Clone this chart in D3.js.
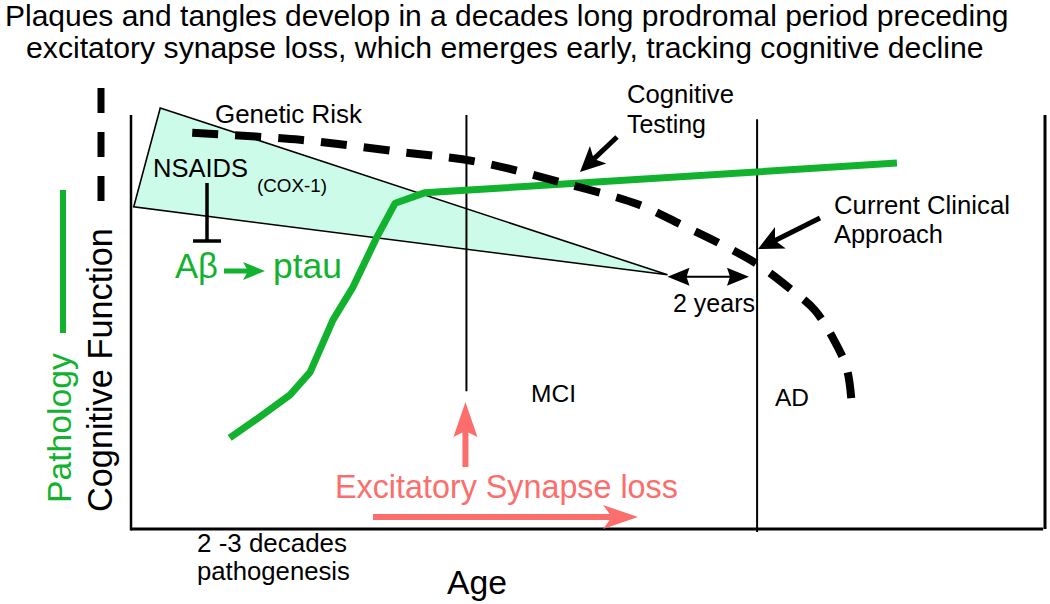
<!DOCTYPE html>
<html>
<head>
<meta charset="utf-8">
<script src="https://cdn.jsdelivr.net/npm/d3@7"></script>
<style>
  html, body { margin: 0; padding: 0; background: #fff; }
  svg { display: block; font-family: "Liberation Sans", Arial, sans-serif; }
</style>
</head>
<body>
<svg id="chart" width="1050" height="604"></svg>
<script>
// ---------------- data ----------------
const titleLines = [
  "Plaques and tangles develop in a decades long prodromal period preceding",
  "excitatory synapse loss, which emerges early, tracking cognitive decline"
];
// pathology (green) curve: age (0-100 of the age axis) vs level (0-100)
const pathologyAge   = [10.8, 14.1, 17.4, 19.6, 22.1, 24.3, 26.9, 28.9, 32.1, 83.8];
const pathologyLevel = [22.0, 27.1, 32.4, 37.9, 50.5, 58.5, 70.5, 78.7, 81.2, 88.4];
// cognitive function (black dashed) curve
const cognitionAge   = [6.7, 18.5, 29.4, 38.1, 46.9, 55.6, 60.3, 64.3, 68.5, 72.3, 74.8, 76.9, 78.3, 78.8];
const cognitionLevel = [95.7, 94.0, 91.1, 88.6, 83.8, 78.3, 73.4, 69.1, 64.0, 57.7, 52.9, 45.7, 38.9, 31.6];
// genetic-risk window (shaded wedge)
const riskAge   = [3.2, 0.3, 58.7];
const riskLevel = [101.7, 77.8, 61.4];
// clinical stage boundaries
const stageNames = ["MCI", "AD"];
const stageAges  = [36.7, 68.5];
const stageTops  = [100, 99];
const stageBottoms = [33.3, -0.7];
// annotation texts
const yLabel = "Cognitive Function";
const pathLabel = "Pathology";
const xLabel = "Age";
const prodromeLabel = ["2 -3 decades", "pathogenesis"];
const testingLabel = ["Cognitive", "Testing"];
const clinicalLabel = ["Current Clinical", "Approach"];
const gapLabel = "2 years";
const synapseLabel = "Excitatory Synapse loss";

// ---------------- setup ----------------
const svg = d3.select("#chart");
const x = d3.scaleLinear().domain([0, 100]).range([131, 1045]);
const y = d3.scaleLinear().domain([0, 100]).range([529, 115]);

const GREEN = "#12b22f", FILL = "#cdfbea", RED = "#fb6e6c";

function fitText(sel, target) {
  const w = sel.node().getComputedTextLength();
  const fs = parseFloat(sel.attr("font-size"));
  sel.attr("font-size", fs * target / w);
}

function head(g, x1, y1, x2, y2, o) {
  const dx = x2 - x1, dy = y2 - y1, L = Math.hypot(dx, dy);
  const ux = dx / L, uy = dy / L, nx = -uy, ny = ux;
  const bx = x2 - ux * o.hl, by = y2 - uy * o.hl;
  const mx = bx + ux * o.notch, my = by + uy * o.notch;
  g.append("polygon")
    .attr("points", [[x2, y2], [bx + nx * o.hw, by + ny * o.hw], [mx, my], [bx - nx * o.hw, by - ny * o.hw]].map(p => p.join(",")).join(" "))
    .attr("fill", o.color);
  return [mx, my, ux, uy];
}
function arrow(g, x1, y1, x2, y2, o) {
  const [mx, my, ux, uy] = head(g, x1, y1, x2, y2, o);
  g.insert("line", "polygon:last-of-type").attr("x1", x1).attr("y1", y1).attr("x2", mx + ux).attr("y2", my + uy)
    .attr("stroke", o.color).attr("stroke-width", o.w);
}

// ---------------- title ----------------
const t1 = svg.append("text").attr("x", 5).attr("y", 26).attr("font-size", 25).attr("fill", "#000").text(titleLines[0]);
fitText(t1, 1004);
const t2 = svg.append("text").attr("x", 26).attr("y", 58).attr("font-size", 25).attr("fill", "#000").text(titleLines[1]);
fitText(t2, 958);

// ---------------- risk wedge ----------------
svg.append("polygon")
  .attr("points", riskAge.map((a, i) => [x(a), y(riskLevel[i])].join(",")).join(" "))
  .attr("fill", FILL).attr("stroke", "#000").attr("stroke-width", 1.6).attr("stroke-linejoin", "miter");

// ---------------- frame ----------------
svg.append("line").attr("x1", x(0)).attr("x2", x(0)).attr("y1", y(100)).attr("y2", y(0) + 1.5)
  .attr("stroke", "#000").attr("stroke-width", 2.5);
svg.append("line").attr("x1", x(0)).attr("x2", x(99.8)).attr("y1", y(0)).attr("y2", y(0))
  .attr("stroke", "#000").attr("stroke-width", 3);
svg.append("line").attr("x1", x(100)).attr("x2", x(100)).attr("y1", y(100)).attr("y2", y(0))
  .attr("stroke", "#000").attr("stroke-width", 3);

// stage lines
stageAges.forEach((a, i) => {
  svg.append("line").attr("x1", x(a)).attr("x2", x(a)).attr("y1", y(stageTops[i])).attr("y2", y(stageBottoms[i]))
    .attr("stroke", "#000").attr("stroke-width", 2);
});

// ---------------- curves ----------------
const lineGen = d3.line().x(d => x(d[0])).y(d => y(d[1]));
svg.append("path")
  .datum(pathologyAge.map((a, i) => [a, pathologyLevel[i]]))
  .attr("d", lineGen.curve(d3.curveLinear))
  .attr("fill", "none").attr("stroke", GREEN).attr("stroke-width", 7).attr("stroke-linejoin", "round");

svg.append("path")
  .datum(cognitionAge.map((a, i) => [a, cognitionLevel[i]]))
  .attr("d", d3.line().x(d => x(d[0])).y(d => y(d[1])).curve(d3.curveCatmullRom.alpha(0.5)))
  .attr("fill", "none").attr("stroke", "#000").attr("stroke-width", 8).attr("stroke-dasharray", "26,17");

// ---------------- y-axis labels ----------------
const yl = svg.append("text").attr("transform", "translate(112,512) rotate(-90)")
  .attr("font-size", 31).attr("fill", "#000").text(yLabel);
fitText(yl, 284);
const pl = svg.append("text").attr("transform", "translate(71,503) rotate(-90)")
  .attr("font-size", 30).attr("fill", GREEN).text(pathLabel);
fitText(pl, 150);
svg.append("line").attr("x1", 63).attr("x2", 63).attr("y1", 190).attr("y2", 333)
  .attr("stroke", GREEN).attr("stroke-width", 6);
svg.append("line").attr("x1", 101).attr("x2", 101).attr("y1", 88).attr("y2", 201)
  .attr("stroke", "#000").attr("stroke-width", 7).attr("stroke-dasharray", "25,19");

// ---------------- annotations ----------------
const ann = svg.append("g");
function label(txt, px, py, fs, color, w) {
  const t = ann.append("text").attr("x", px).attr("y", py).attr("font-size", fs).attr("fill", color || "#000").text(txt);
  if (w) fitText(t, w);
  return t;
}
label("Genetic Risk", 215, 123, 20, "#000", 147);
label("NSAIDS", 153, 177, 20, "#000", 95);
label("(COX-1)", 257, 192, 14, "#000", 70);
// inhibition bar
ann.append("line").attr("x1", 207).attr("x2", 207).attr("y1", 183).attr("y2", 241).attr("stroke", "#000").attr("stroke-width", 3.5);
ann.append("line").attr("x1", 193).attr("x2", 221).attr("y1", 241).attr("y2", 241).attr("stroke", "#000").attr("stroke-width", 3.5);
// Aβ -> ptau
label("Aβ", 175, 278, 28, GREEN, 43);
arrow(ann, 224, 271, 265, 271, { w: 5, hl: 22, hw: 9, notch: 5, color: GREEN });
label("ptau", 273, 278, 28, GREEN, 69);

// cognitive testing
label(testingLabel[0], 627, 103, 20, "#000", 107);
label(testingLabel[1], 627, 133, 20, "#000", 79);
arrow(ann, 617, 137, 580, 172, { w: 5, hl: 25, hw: 12, notch: 6, color: "#000" });

// current clinical approach
label(clinicalLabel[0], 834, 214, 20, "#000", 176);
label(clinicalLabel[1], 834, 243, 20, "#000", 109);
arrow(ann, 820, 218, 758, 249, { w: 5, hl: 25, hw: 12, notch: 6, color: "#000" });

// 2 years double arrow
const gy = y(riskLevel[2]) + 2;
ann.append("line").attr("x1", x(riskAge[2]) + 15).attr("x2", 735).attr("y1", gy).attr("y2", gy).attr("stroke", "#000").attr("stroke-width", 2);
head(ann, 700, gy, x(riskAge[2]), gy, { hl: 22, hw: 9, notch: 3, color: "#000" });
head(ann, 700, gy, 749, gy, { hl: 22, hw: 9, notch: 3, color: "#000" });
label(gapLabel, 673, 312, 19, "#000", 82);

// stage labels
label(stageNames[0], 531, 402, 19, "#000", 45);
label(stageNames[1], 775, 406, 19, "#000", 34);

// excitatory synapse loss
arrow(ann, x(stageAges[0]) - 1, 467, x(stageAges[0]) - 1, 402, { w: 6, hl: 35, hw: 12, notch: 6, color: RED });
label(synapseLabel, 335, 498, 28, RED, 343);
arrow(ann, 373, 517, 638, 517, { w: 6, hl: 35, hw: 12, notch: 9, color: RED });

// x-axis texts
label(prodromeLabel[0], 197, 552, 20, "#000", 150);
label(prodromeLabel[1], 197, 580, 20, "#000", 153);
label(xLabel, 447, 594, 28, "#000", 60);
</script>
</body>
</html>
